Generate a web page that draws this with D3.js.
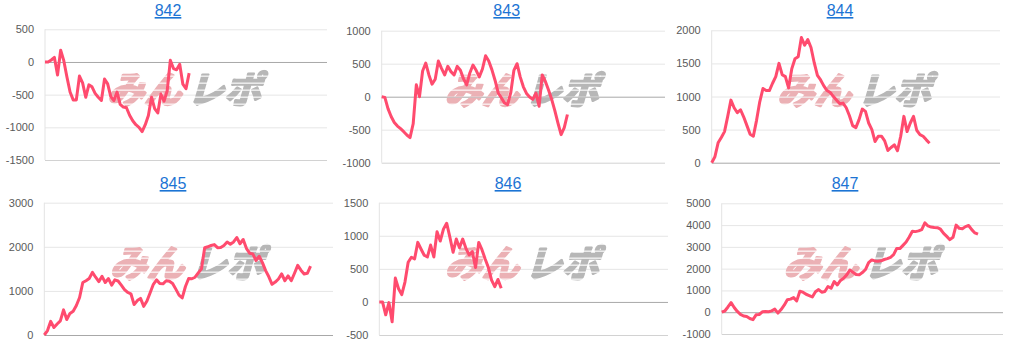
<!DOCTYPE html>
<html lang="ja">
<head>
<meta charset="UTF-8">
<title>差枚グラフ</title>
<style>
  html, body { margin: 0; padding: 0; background: #fff; }
  svg { display: block; font-family: Arial, "Liberation Sans", sans-serif; }
  .title { fill: #1c74d4; font-size: 16px; text-decoration: underline; }
  .labels text { fill: #5a5a5a; font-size: 11px; }
</style>
</head>
<body>
<svg id="chart" width="1009" height="345"></svg>
<script src="https://cdn.jsdelivr.net/npm/d3@7"></script>
<script>
// x axis runs over a fixed number of steps; each series is only partly filled
const X_MAX = 90;

const titles = ["842", "843", "844", "845", "846", "847"];

const s842 = [0, 0, 30, 70, -200, 180, 20, -230, -460, -580,
  -580, -215, -320, -540, -350, -380, -480, -540, -590, -260,
  -335, -530, -590, -460, -650, -690, -700, -815, -900, -960,
  -1000, -1065, -960, -820, -540, -715, -780, -490, -600, -440,
  25, -100, -120, -35, -340, -410, -170];

const s843 = [0, -10, -180, -300, -390, -445, -485, -530, -580, -620,
  -410, 180, 0, 390, 510, 330, 190, 265, 540, 430,
  330, 460, 380, 330, 460, 400, 270, 180, 360, 480,
  400, 300, 420, 620, 540, 410, 250, 60, -15, -95,
  -120, 60, 400, 500, 300, 150, 50, -5, -40, 55,
  -145, 330, 230, 100, -40, -210, -400, -575, -470, -270];

const s844 = [0, 90, 300, 380, 470, 700, 945, 830, 755, 800,
  690, 560, 430, 400, 640, 920, 1120, 1090, 1090, 1200,
  1300, 1500, 1330, 1300, 1130, 1420, 1570, 1600, 1890, 1775,
  1860, 1740, 1510, 1320, 1250, 1160, 1090, 1060, 1000, 945,
  890, 900, 830, 710, 560, 530, 650, 810, 775, 600,
  500, 320, 400, 400, 330, 185, 230, 270, 180, 400,
  700, 470, 600, 700, 490, 425, 400, 345, 295];

const s845 = [0, 100, 310, 170, 250, 320, 570, 350, 490, 540,
  670, 850, 1190, 1230, 1280, 1420, 1310, 1210, 1330, 1190,
  1280, 1130, 1250, 1225, 1130, 1030, 965, 935, 690, 780,
  830, 650, 770, 960, 1150, 1250, 1170, 1160, 1230, 1220,
  1170, 1040, 905, 840, 1100, 1280, 1275, 1310, 1410, 1500,
  1980, 2000, 2030, 2050, 1980, 1985, 2030, 2110, 2060, 2110,
  2210, 2070, 2165, 1965, 1855, 1840, 1690, 1785, 1640, 1460,
  1320, 1150, 1200, 1270, 1385, 1230, 1340, 1230, 1400, 1580,
  1470, 1385, 1400, 1560];

const s846 = [0, 0, -195, -10, -300, 360, 200, 110, 300, 600,
  675, 650, 900, 800, 705, 680, 860, 680, 1060, 920,
  1100, 1190, 980, 750, 950, 820, 950, 810, 710, 760,
  520, 900, 790, 650, 520, 330, 230, 340, 205];

const s847 = [0, 55, 240, 440, 215, 35, -100, -175, -200, -290,
  -340, -120, -105, 20, 30, 20, 60, 140, -40, 120,
  320, 570, 600, 670, 520, 960, 920, 825, 765, 700,
  940, 1040, 920, 950, 1180, 1100, 1410, 1250, 1460, 1560,
  1715, 1940, 1830, 1730, 1715, 1820, 1960, 2280, 2400, 2355,
  2340, 2360, 2420, 2460, 2520, 2640, 2930, 2920, 3070, 3220,
  3450, 3720, 3700, 3735, 3790, 4100, 3960, 3910, 3885, 3880,
  3810, 3620, 3480, 3330, 3440, 4000, 3850, 3830, 3930, 3980,
  3790, 3640, 3580];

const ticks842 = [-1500, -1000, -500, 0, 500];
const ticks843 = [-1000, -500, 0, 500, 1000];
const ticks844 = [0, 500, 1000, 1500, 2000];
const ticks845 = [0, 1000, 2000, 3000];
const ticks846 = [-500, 0, 500, 1000, 1500];
const ticks847 = [-1000, 0, 1000, 2000, 3000, 4000, 5000];

const seriesList = [s842, s843, s844, s845, s846, s847];
const tickList = [ticks842, ticks843, ticks844, ticks845, ticks846, ticks847];

// plot boxes for the 3x2 grid
const layouts = [
  { left: 45, right: 327, top: 29.3, bottom: 160, tx: 168, ty: 16, wy: 86 },
  { left: 381.7, right: 665, top: 30.7, bottom: 162.7, tx: 506.7, ty: 16, wy: 87 },
  { left: 711.7, right: 1000, top: 30.3, bottom: 162.7, tx: 840, ty: 16, wy: 87 },
  { left: 44.3, right: 333, top: 202.7, bottom: 335, tx: 173, ty: 189, wy: 260 },
  { left: 379.3, right: 668, top: 202.7, bottom: 335, tx: 508, ty: 189, wy: 260 },
  { left: 721.7, right: 1003, top: 203.3, bottom: 334, tx: 845, ty: 189, wy: 260 }
];

const svg = d3.select('#chart');

// stripe mask for the watermark
const defs = svg.append('defs');
const pat = defs.append('pattern')
  .attr('id', 'stripes')
  .attr('patternUnits', 'userSpaceOnUse')
  .attr('width', 10).attr('height', 7);
pat.append('rect').attr('width', 10).attr('height', 7).attr('fill', '#fff');
pat.append('rect').attr('y', 5.6).attr('width', 10).attr('height', 1.1).attr('fill', '#000');
defs.append('mask').attr('id', 'wm-mask')
  .attr('maskUnits', 'userSpaceOnUse')
  .attr('x', 0).attr('y', 0).attr('width', 1009).attr('height', 345)
  .append('rect').attr('width', 1009).attr('height', 345).attr('fill', 'url(#stripes)');

function drawPanel(title, values, ticks, L) {
  const g = svg.append('g');
  const x = d3.scaleLinear().domain([0, X_MAX]).range([L.left, L.right]);
  const y = d3.scaleLinear().domain(d3.extent(ticks)).range([L.bottom, L.top]);
  const lo = d3.min(ticks);

  // gridlines
  g.append('g')
    .attr('transform', `translate(${L.left},0)`)
    .call(d3.axisLeft(y).tickValues(ticks).tickSize(-(L.right - L.left)).tickFormat(''))
    .call(a => a.select('.domain').remove())
    .selectAll('.tick line')
    .attr('stroke', d => d === 0 ? '#a8a8a8' : (d === lo ? '#d2d2d2' : '#e6e6e6'));

  // zero line on top of the rest
  g.selectAll('.tick').filter(d => d === 0).raise();

  g.append('line')
    .attr('x1', x(0)).attr('x2', x(0))
    .attr('y1', L.top).attr('y2', L.bottom)
    .attr('stroke', '#e3e3e3');

  // tick labels
  g.append('g')
    .attr('class', 'labels')
    .attr('transform', `translate(${L.left},0)`)
    .call(d3.axisLeft(y).tickValues(ticks).tickSize(0).tickPadding(11).tickFormat(d => String(d)))
    .attr('font-size', null).attr('font-family', null)
    .call(a => a.select('.domain').remove());

  // watermark
  const cx = (L.left + L.right) / 2;
  const wm = g.append('g')
    .attr('mask', 'url(#wm-mask)')
    .append('g')
    .attr('transform', `translate(${cx},${L.wy}) skewX(-16)`)
    .style('font-family', '"Noto Sans CJK JP", sans-serif')
    .style('font-weight', 700)
    .style('font-size', '37px')
    .attr('stroke-width', 2.6)
    .attr('stroke-linejoin', 'round');
  wm.append('text')
    .attr('x', 0).attr('y', 1)
    .attr('text-anchor', 'end')
    .attr('dominant-baseline', 'central')
    .attr('fill', '#ebb1b5').attr('stroke', '#ebb1b5')
    .text('みん');
  wm.append('text')
    .attr('x', 6).attr('y', 1)
    .attr('text-anchor', 'start')
    .attr('dominant-baseline', 'central')
    .attr('fill', '#b7b7b7').attr('stroke', '#b7b7b7')
    .text('レポ');

  // series line
  g.append('path')
    .datum(values)
    .attr('fill', 'none')
    .attr('stroke', '#ff4b6e')
    .attr('stroke-width', 3)
    .attr('stroke-linejoin', 'round')
    .attr('d', d3.line().x((d, i) => x(i)).y(d => y(d)));

  // title link
  g.append('text')
    .attr('class', 'title')
    .attr('x', L.tx).attr('y', L.ty)
    .attr('text-anchor', 'middle')
    .text(title);
}

titles.forEach((t, i) => drawPanel(t, seriesList[i], tickList[i], layouts[i]));
</script>
</body>
</html>
